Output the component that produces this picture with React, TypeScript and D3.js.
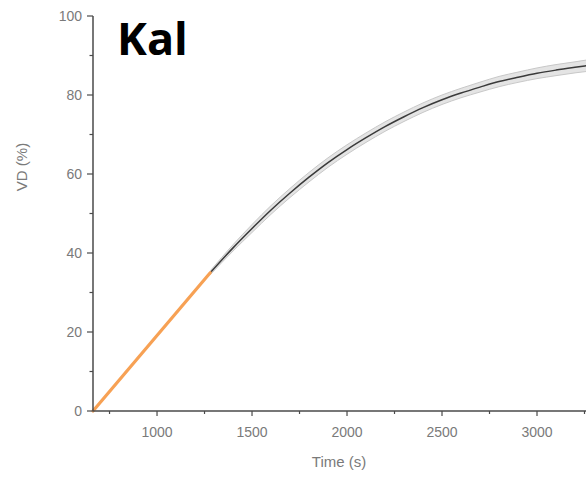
import React from "react";
import * as d3 from "d3";

const W = 586;
const H = 482;

// Linear (orange) segment
const linTime = [663, 1280];
const linVD = [0, 35.0];

// Curve (black) segment with confidence band
const curveTime = [1280, 1400, 1500, 1600, 1700, 1800, 1900, 2000, 2100, 2200, 2300, 2400, 2500, 2600, 2700, 2800, 2900, 3000, 3100, 3200, 3260];
const curveVD = [35.0, 41.3, 46.2, 50.9, 55.2, 59.2, 62.9, 66.2, 69.2, 72.0, 74.5, 76.8, 78.8, 80.5, 82.0, 83.4, 84.5, 85.5, 86.3, 87.0, 87.4];
const bandHalf = [0.5, 0.8, 1.0, 1.1, 1.15, 1.2, 1.2, 1.2, 1.2, 1.2, 1.2, 1.2, 1.2, 1.2, 1.25, 1.3, 1.3, 1.35, 1.4, 1.4, 1.45];

const xMajor = [1000, 1500, 2000, 2500, 3000];
const xMinor = [750, 1250, 1750, 2250, 2750, 3250];
const yMajor = [0, 20, 40, 60, 80, 100];
const yMinor = [10, 30, 50, 70, 90];

export default function App() {
  const x = d3.scaleLinear().domain([663, 3260]).range([93, 586.4]);
  const y = d3.scaleLinear().domain([0, 100]).range([411, 16]);

  const lin = d3.line<number>().x((_, i) => x(linTime[i])).y((d) => y(d));
  const curve = d3
    .line<number>()
    .x((_, i) => x(curveTime[i]))
    .y((d) => y(d))
    .curve(d3.curveMonotoneX);
  const area = d3
    .area<number>()
    .x((_, i) => x(curveTime[i]))
    .y0((d, i) => y(d - bandHalf[i]))
    .y1((d, i) => y(d + bandHalf[i]))
    .curve(d3.curveMonotoneX);
  const upper = d3
    .line<number>()
    .x((_, i) => x(curveTime[i]))
    .y((d, i) => y(d + bandHalf[i]))
    .curve(d3.curveMonotoneX);
  const lower = d3
    .line<number>()
    .x((_, i) => x(curveTime[i]))
    .y((d, i) => y(d - bandHalf[i]))
    .curve(d3.curveMonotoneX);

  const axisColor = "#4a4a4a";
  const textColor = "#7a7a7a";
  const font = "'Liberation Sans', Arial, sans-serif";

  return (
    <svg
      width={W}
      height={H}
      style={{ position: "absolute", left: 0, top: 0, background: "#fff" }}
    >
      <rect x={0} y={0} width={W} height={H} fill="#fff" />
      {/* band */}
      <path d={area(curveVD) || ""} fill="#e4e4e4" stroke="none" />
      <path d={upper(curveVD) || ""} fill="none" stroke="#c8c8c8" strokeWidth={1} />
      <path d={lower(curveVD) || ""} fill="none" stroke="#c8c8c8" strokeWidth={1} />
      <path d={curve(curveVD) || ""} fill="none" stroke="#3a3a3a" strokeWidth={1.5} />
      {/* orange linear */}
      <path d={lin(linVD) || ""} fill="none" stroke="#f7a154" strokeWidth={3.2} strokeLinecap="round" />

      {/* axes */}
      <line x1={x(663)} x2={x(663)} y1={y(100)} y2={y(0)} stroke={axisColor} strokeWidth={1.5} />
      <line x1={x(663)} x2={W} y1={y(0)} y2={y(0)} stroke={axisColor} strokeWidth={1.5} />
      {yMajor.map((v) => (
        <g key={"ym" + v}>
          <line x1={x(663) - 6} x2={x(663)} y1={y(v)} y2={y(v)} stroke={axisColor} strokeWidth={1.2} />
          <text x={82} y={y(v)} dy="0.35em" textAnchor="end" fontFamily={font} fontSize={14} fill={textColor}>
            {v}
          </text>
        </g>
      ))}
      {yMinor.map((v) => (
        <line key={"yn" + v} x1={x(663) - 3.5} x2={x(663)} y1={y(v)} y2={y(v)} stroke={axisColor} strokeWidth={1.2} />
      ))}
      {xMajor.map((v) => (
        <g key={"xm" + v}>
          <line x1={x(v)} x2={x(v)} y1={y(0)} y2={y(0) + 5} stroke={axisColor} strokeWidth={1.2} />
          <text x={x(v)} y={437} textAnchor="middle" fontFamily={font} fontSize={14} fill={textColor}>
            {v}
          </text>
        </g>
      ))}
      {xMinor.map((v) => (
        <line key={"xn" + v} x1={x(v)} x2={x(v)} y1={y(0)} y2={y(0) + 3} stroke={axisColor} strokeWidth={1.2} />
      ))}

      {/* axis titles */}
      <text x={339} y={467} textAnchor="middle" fontFamily={font} fontSize={15} fill={textColor}>
        Time (s)
      </text>
      <text
        transform="translate(27,167) rotate(-90)"
        textAnchor="middle"
        fontFamily={font}
        fontSize={15}
        fill={textColor}
      >
        VD (%)
      </text>

      {/* title */}
      <text x={117} y={55} fontFamily="'Open Sans', sans-serif" fontWeight={700} fontSize={45} fill="#000">
        Kal
      </text>
    </svg>
  );
}
